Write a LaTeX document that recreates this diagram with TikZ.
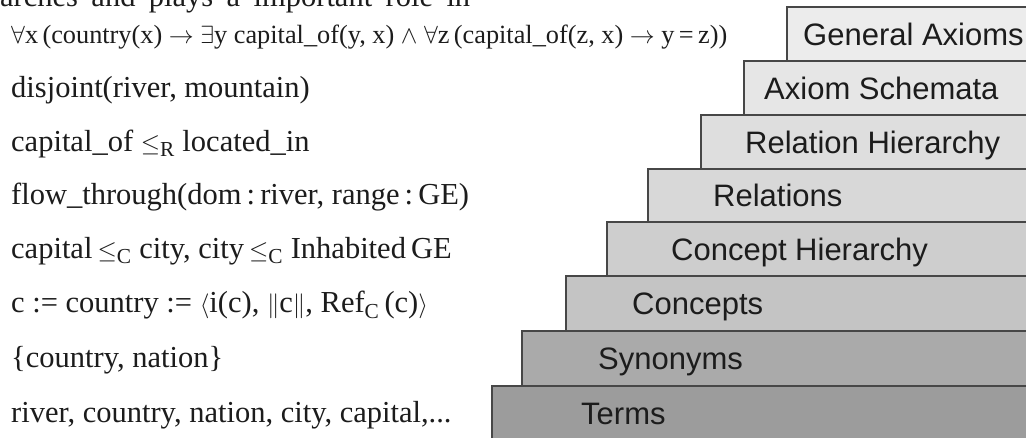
\documentclass[tikz,border=0pt]{standalone}
\usepackage{fontspec}
\setmainfont{Liberation Serif}
\newfontfamily\labelfont{Liberation Sans}
\definecolor{cGA}{RGB}{236,236,236}
\definecolor{cAS}{RGB}{230,230,230}
\definecolor{cRH}{RGB}{222,222,222}
\definecolor{cRel}{RGB}{216,216,216}
\definecolor{cCH}{RGB}{206,206,206}
\definecolor{cCon}{RGB}{196,196,196}
\definecolor{cSyn}{RGB}{170,170,170}
\definecolor{cTer}{RGB}{156,156,156}
\definecolor{ink}{RGB}{28,28,28}
\begin{document}
\begin{tikzpicture}[x=1pt,y=-1pt,
  stepbox/.style={draw=black!72, line width=1.1pt},
  steplabel/.style={anchor=base west, inner sep=0pt, text=ink,
    font=\labelfont\fontsize{31}{36}\selectfont},
  formula/.style={anchor=base west, inner sep=0pt, text=ink,
    font=\fontsize{30.5}{36}\selectfont},
  bigformula/.style={formula, font=\fontsize{26.3}{32}\selectfont}]
\useasboundingbox (0,0) rectangle (1026,437);
\clip (0,0) rectangle (1026,437);
\fill[white] (0,0) rectangle (1026,437);

% fragment of the previous text line, cut at the top
\node[formula] (frag) at (0,6) {\makebox[470pt][s]{arches and plays a important role in}};

% steps of the stair
\path[stepbox, fill=cGA]  (787,7)   rectangle (1040,61);
\path[stepbox, fill=cAS]  (744,61)  rectangle (1040,115);
\path[stepbox, fill=cRH]  (701,115) rectangle (1040,169);
\path[stepbox, fill=cRel] (648,169) rectangle (1040,222);
\path[stepbox, fill=cCH]  (607,222) rectangle (1040,276);
\path[stepbox, fill=cCon] (566,276) rectangle (1040,331);
\path[stepbox, fill=cSyn] (522,331) rectangle (1040,386);
\path[stepbox, fill=cTer] (492,386) rectangle (1040,445);

\node[steplabel] (ga)  at (803,45)    {General Axioms};
\node[steplabel] (as)  at (764,99)    {Axiom Schemata};
\node[steplabel] (rh)  at (745,153)   {Relation Hierarchy};
\node[steplabel] (rel) at (713,206.5) {Relations};
\node[steplabel] (ch)  at (671,260)   {Concept Hierarchy};
\node[steplabel] (con) at (632,314.5) {Concepts};
\node[steplabel] (syn) at (598,369.5) {Synonyms};
\node[steplabel] (ter) at (581,424.5) {Terms};

% examples
\node[bigformula] (f1) at (11,43)
  {$\forall$x\,(country(x) $\rightarrow$ $\exists$y capital\_of(y, x) $\wedge$ $\forall$z\,(capital\_of(z, x) $\rightarrow$ y\,=\,z))};
\node[formula] (f2) at (11,97) {disjoint(river, mountain)};
\node[formula] (f3) at (11,151) {capital\_of $\leq_{\mathrm{R}}$ located\_in};
\node[formula] (f4) at (11,204.5) {flow\_through(dom\,:\,river, range\,:\,GE)};
\node[formula] (f5) at (11,258) {capital\,$\leq_{\mathrm{C}}$ city, city\,$\leq_{\mathrm{C}}$ Inhabited\,GE};
\node[formula] (f6) at (11,312.5) {c := country := $\langle$i(c), $\|$c$\|$, Ref$_{\mathrm{C}}$\,(c)$\rangle$};
\node[formula] (f7) at (11,367.5) {\{country, nation\}};
\node[formula] (f8) at (11,422.5) {river, country, nation, city, capital,...};
\end{tikzpicture}
\end{document}
